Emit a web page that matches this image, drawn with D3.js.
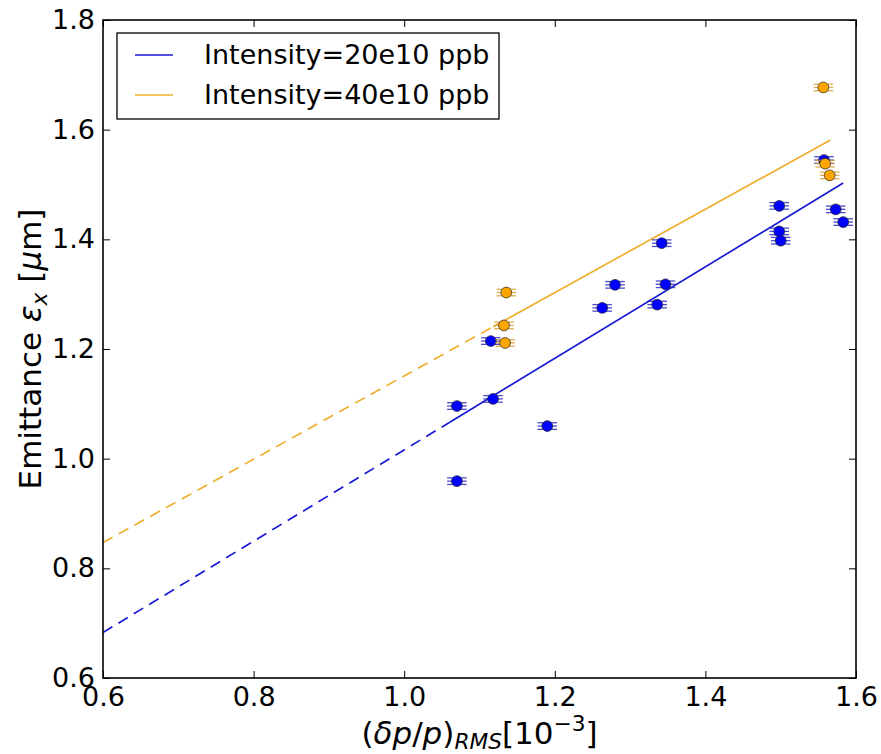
<!DOCTYPE html>
<html><head><meta charset="utf-8">
<script src="https://cdn.jsdelivr.net/npm/d3@7"></script>
<style>body{margin:0;background:#fff}svg{display:block;font-family:"DejaVu Sans",sans-serif}</style>
</head><body><svg id="c" width="881" height="754"></svg>
<script>
// ---- data ----
const blueX = [1.070, 1.070, 1.115, 1.118, 1.190, 1.263, 1.280, 1.336, 1.342, 1.347, 1.498, 1.498, 1.500, 1.5575, 1.573, 1.583];
const blueY = [0.959, 1.096, 1.2145, 1.109, 1.0595, 1.275, 1.317, 1.281, 1.393, 1.318, 1.461, 1.4145, 1.3975, 1.5446, 1.4547, 1.4315];
const orangeX = [1.5566, 1.559, 1.565, 1.1356, 1.1325, 1.134];
const orangeY = [1.677, 1.538, 1.5167, 1.303, 1.243, 1.211];
const errX = 0.013, errY = 0.006;
// fit lines: [x start dashed, x start solid, x end], [y at those x]
const blueFitX = [0.6, 1.06, 1.583];
const blueFitY = [0.683, 1.066, 1.5027];
const orangeFitX = [0.6, 1.118, 1.566];
const orangeFitY = [0.847, 1.2406, 1.581];
const xTicks = [0.6, 0.8, 1.0, 1.2, 1.4, 1.6];
const yTicks = [0.6, 0.8, 1.0, 1.2, 1.4, 1.6, 1.8];
const legendLabels = ["Intensity=20e10 ppb", "Intensity=40e10 ppb"];

const BLUE = "#0000ff", BLUE_LINE = "#1a1ad6", ORANGE = "#ffa500", ORANGE_LINE = "#efae2f";
const svg = d3.select("#c");
const L = 103, R = 856, T = 20, B = 678;
const x = d3.scaleLinear().domain([0.6, 1.6]).range([L, R]);
const y = d3.scaleLinear().domain([0.6, 1.8]).range([B, T]);
const FS = 27, LFS = 31;

// ticks (inward, all sides)
const g = svg.append("g");
const fmt = d3.format(".1f");
g.append("g").attr("transform", `translate(0,${B})`)
  .call(d3.axisBottom(x).tickValues(xTicks).tickSize(-7).tickPadding(9).tickFormat(fmt));
g.append("g").attr("transform", `translate(0,${T})`)
  .call(d3.axisTop(x).tickValues(xTicks).tickSize(-7).tickFormat(""));
g.append("g").attr("transform", `translate(${L},0)`)
  .call(d3.axisLeft(y).tickValues(yTicks).tickSize(-7).tickPadding(8).tickFormat(fmt));
g.append("g").attr("transform", `translate(${R},0)`)
  .call(d3.axisRight(y).tickValues(yTicks).tickSize(-7).tickFormat(""));
g.selectAll(".domain").remove();
g.selectAll(".tick line").attr("stroke", "#000").attr("stroke-width", 1);
g.selectAll(".tick text").attr("font-size", FS).attr("fill", "#000").attr("font-family", "DejaVu Sans");

// fit lines
function fit(fx, fy, col) {
  const line = d3.line().x(d => x(d[0])).y(d => y(d[1]));
  svg.append("path").attr("d", line([[fx[0], fy[0]], [fx[1], fy[1]]]))
    .attr("stroke", col).attr("stroke-width", 1.7).attr("fill", "none").attr("stroke-dasharray", "11,7");
  svg.append("path").attr("d", line([[fx[1], fy[1]], [fx[2], fy[2]]]))
    .attr("stroke", col).attr("stroke-width", 1.7).attr("fill", "none");
}
fit(blueFitX, blueFitY, BLUE_LINE);
fit(orangeFitX, orangeFitY, ORANGE_LINE);

// error bars + points
function pts(xs, ys, fill, ecol) {
  const data = xs.map((v, i) => [v, ys[i]]);
  const eg = svg.append("g").attr("stroke", ecol).attr("stroke-width", 1.3).attr("opacity", 0.8);
  data.forEach(d => {
    const x0 = x(d[0] - errX), x1 = x(d[0] + errX);
    eg.append("line").attr("x1", x0).attr("x2", x1).attr("y1", y(d[1])).attr("y2", y(d[1]));
    [d[1] - errY, d[1] + errY].forEach(v => eg.append("line").attr("x1", x0).attr("x2", x1).attr("y1", y(v)).attr("y2", y(v)));
    eg.append("line").attr("x1", x(d[0])).attr("x2", x(d[0])).attr("y1", y(d[1] - errY)).attr("y2", y(d[1] + errY));
  });
  svg.append("g").selectAll("circle").data(data).join("circle")
    .attr("cx", d => x(d[0])).attr("cy", d => y(d[1])).attr("r", 5.4)
    .attr("fill", fill).attr("stroke", "#222").attr("stroke-width", 0.7);
}
pts(blueX, blueY, BLUE, "#2020c0");
pts(orangeX, orangeY, ORANGE, "#d89a2a");

// frame
svg.append("rect").attr("x", L).attr("y", T).attr("width", R - L).attr("height", B - T)
  .attr("fill", "none").attr("stroke", "#000").attr("stroke-width", 1.6);

// legend
const lg = svg.append("g");
lg.append("rect").attr("x", 117).attr("y", 33).attr("width", 382).attr("height", 86)
  .attr("fill", "#fff").attr("stroke", "#000").attr("stroke-width", 1.3);
[BLUE_LINE, ORANGE_LINE].forEach((c, i) => {
  const yy = 55 + i * 40;
  lg.append("line").attr("x1", 135).attr("x2", 173).attr("y1", yy).attr("y2", yy).attr("stroke", c).attr("stroke-width", 1.7);
  lg.append("text").attr("x", 204).attr("y", yy + 9).attr("font-size", FS).text(legendLabels[i]);
});

// axis labels
const xl = svg.append("text").attr("x", (L + R) / 2).attr("y", 744).attr("text-anchor", "middle").attr("font-size", LFS);
xl.append("tspan").text("(");
xl.append("tspan").attr("font-style", "italic").text("δp");
xl.append("tspan").text("/");
xl.append("tspan").attr("font-style", "italic").text("p");
xl.append("tspan").text(")");
xl.append("tspan").attr("font-style", "italic").attr("font-size", LFS * 0.7).attr("dy", 5).text("RMS");
xl.append("tspan").attr("dy", -5).text("[10");
xl.append("tspan").attr("font-size", LFS * 0.7).attr("dy", -13).text("−3");
xl.append("tspan").attr("dy", 13).text("]");

const yl = svg.append("text").attr("transform", `translate(41,${(T + B) / 2}) rotate(-90)`)
  .attr("text-anchor", "middle").attr("font-size", LFS);
yl.append("tspan").text("Emittance ");
yl.append("tspan").attr("font-style", "italic").text("ε");
yl.append("tspan").attr("font-style", "italic").attr("font-size", LFS * 0.7).attr("dy", 6).text("x");
yl.append("tspan").attr("dy", -6).text(" [");
yl.append("tspan").attr("font-style", "italic").text("μ");
yl.append("tspan").text("m]");
</script></body></html>
